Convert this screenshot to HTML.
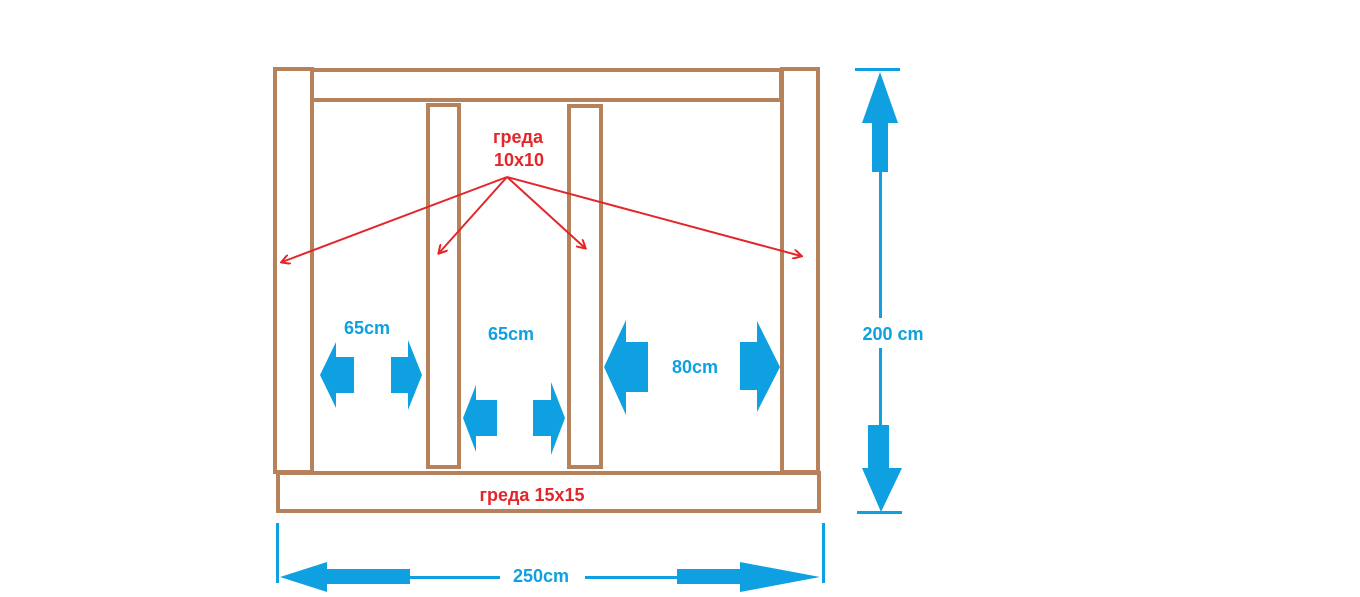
<!DOCTYPE html>
<html><head><meta charset="utf-8"><style>
html,body{margin:0;padding:0;background:#fff;}
svg{display:block}
text{font-family:"Liberation Sans","DejaVu Sans",sans-serif;font-weight:bold;}
</style></head><body>
<svg width="1360" height="597" viewBox="0 0 1360 597" xmlns="http://www.w3.org/2000/svg">
<defs>
<marker id="ra" markerWidth="10" markerHeight="10" refX="8" refY="5" orient="auto" markerUnits="userSpaceOnUse">
<path d="M0,0 L9,5 L0,10" fill="none" stroke="#e3262a" stroke-width="2"/>
</marker>
</defs>
<g fill="none" stroke="#b5825c" stroke-width="4">
<rect x="275" y="69" width="37" height="403"/>
<rect x="782" y="69" width="36" height="403"/>
<rect x="312" y="70" width="469" height="30"/>
<rect x="428" y="105" width="31" height="362"/>
<rect x="569" y="106" width="32" height="361"/>
<rect x="278" y="473" width="541" height="38"/>
</g>
<g stroke="#e3262a" stroke-width="2" marker-end="url(#ra)">
<line x1="507" y1="177" x2="282" y2="262"/>
<line x1="507" y1="177" x2="439" y2="253"/>
<line x1="507" y1="177" x2="585" y2="248"/>
<line x1="507" y1="177" x2="801" y2="256"/>
</g>
<text x="518" y="143" fill="#e3262a" font-size="18" text-anchor="middle">греда</text>
<text x="519" y="166" fill="#e3262a" font-size="18" text-anchor="middle">10x10</text>
<text x="532" y="501" fill="#e3262a" font-size="18" text-anchor="middle">греда 15x15</text>
<g fill="#0ea0e0" stroke="none">
<!-- vertical dimension -->
<rect x="855" y="68" width="45" height="3"/>
<rect x="857" y="511" width="45" height="3"/>
<path d="M880,72 L898,123 L888,123 L888,172 L872,172 L872,123 L862,123 Z"/>
<rect x="879" y="172" width="3" height="146"/>
<rect x="879" y="348" width="3" height="77"/>
<path d="M868,425 L889,425 L889,468 L902,468 L881,512 L862,468 L868,468 Z"/>
<!-- horizontal dimension -->
<rect x="276" y="523" width="3" height="60"/>
<rect x="822" y="523" width="3" height="60"/>
<path d="M280,577 L327,562 L327,569 L410,569 L410,584 L327,584 L327,592 Z"/>
<rect x="410" y="576" width="90" height="3"/>
<rect x="585" y="576" width="92" height="3"/>
<path d="M820,577 L740,562 L740,569 L677,569 L677,584 L740,584 L740,592 Z"/>
<!-- bay arrows -->
<path d="M320,375 L336,342 L336,357 L354,357 L354,393 L336,393 L336,408 Z"/>
<path d="M422,375 L408,340 L408,357 L391,357 L391,393 L408,393 L408,410 Z"/>
<path d="M463,418 L476,385 L476,400 L497,400 L497,436 L476,436 L476,452 Z"/>
<path d="M565,418 L551,382 L551,400 L533,400 L533,436 L551,436 L551,455 Z"/>
<path d="M604,367 L626,320 L626,342 L648,342 L648,392 L626,392 L626,415 Z"/>
<path d="M780,367 L757,321 L757,342 L740,342 L740,390 L757,390 L757,412 Z"/>
</g>
<g fill="#0ea0e0" font-size="18" text-anchor="middle">
<text x="367" y="334">65cm</text>
<text x="511" y="340">65cm</text>
<text x="695" y="373">80cm</text>
<text x="893" y="340">200 cm</text>
<text x="541" y="582">250cm</text>
</g>
</svg>
</body></html>
